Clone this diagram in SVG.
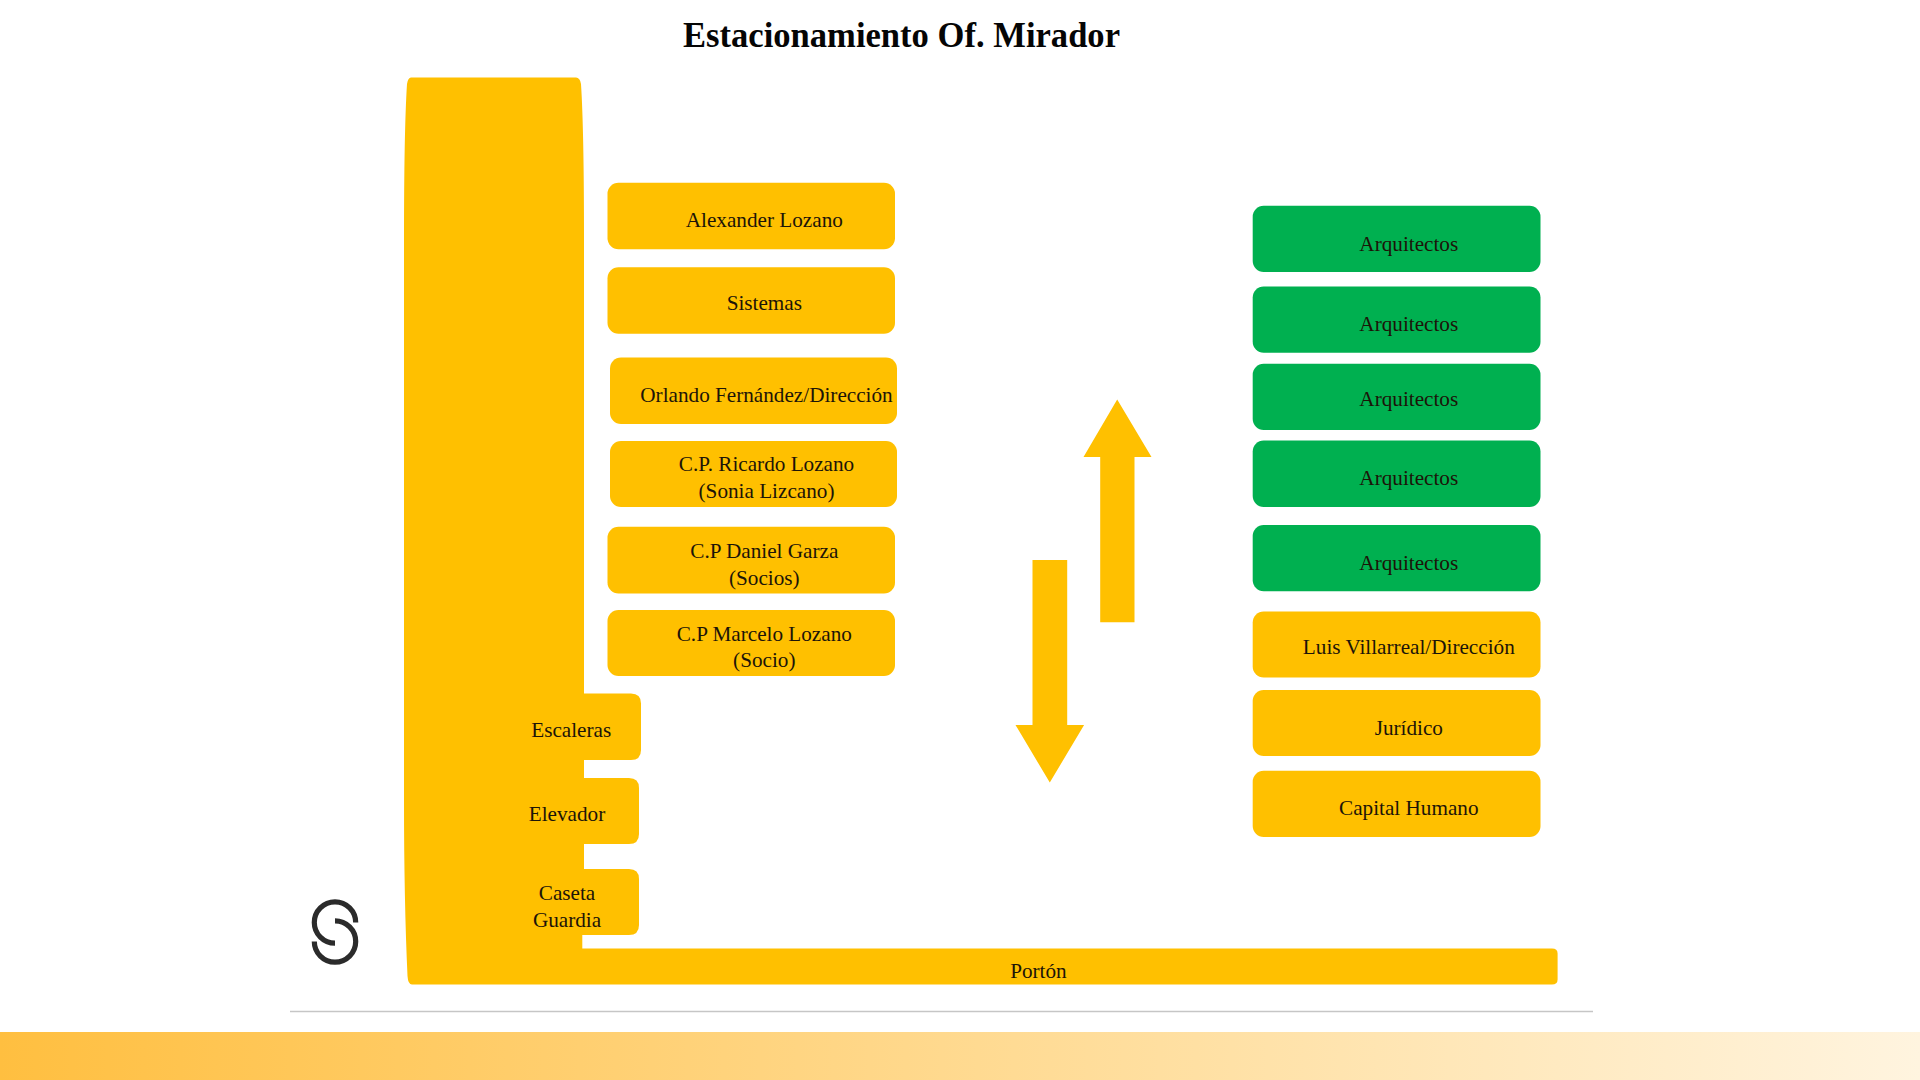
<svg xmlns="http://www.w3.org/2000/svg" width="1920" height="1080" viewBox="0 0 1920 1080">
<style>
text{font-family:"Liberation Serif","Times New Roman",serif;font-size:21.2px;fill:#1c1408;text-anchor:middle}
.title{font-size:35.5px;font-weight:700;fill:#050505}
.y{fill:#FFC000}
.g{fill:#00B050}
.logo{fill:none;stroke:#2b2b2b;stroke-width:5.2}
</style>
<defs><linearGradient id="band" x1="0" y1="0" x2="1" y2="0"><stop offset="0" stop-color="#FFBF40"/><stop offset="1" stop-color="#FFF4DF"/></linearGradient></defs>
<rect width="1920" height="1080" fill="#fff"/>
<rect x="0" y="1032" width="1920" height="48" fill="url(#band)"/>
<line x1="290" y1="1011.5" x2="1593" y2="1011.5" stroke="#c6c6c6" stroke-width="1.3"/>
<text class="title" x="901.500" y="47" textLength="437" lengthAdjust="spacingAndGlyphs">Estacionamiento Of. Mirador</text>
<g id="logo"><path class="logo" d="M355.700 922.500A20.700 20.700 0 1 0 335 943.200"/><path class="logo" d="M314.300 941.500A20.700 20.700 0 1 0 335 920.800"/></g>
<g id="torre"><path class="y" d="M411 77.500H576Q580 77.500 581 84Q584 130 584 240V935H582.300V948.500H1552Q1557.600 948.500 1557.600 953.500V979.500Q1557.600 984.500 1552 984.500H412Q408 984.500 407.500 976Q404 900 404 800V240Q404 130 407 84Q408 77.500 411 77.500Z"/></g>
<g id="escaleras"><path class="y" d="M570 693.500H631Q641 693.500 641 703.500V750Q641 760 631 760H570Z"/><text x="571.200" y="736.700">Escaleras</text></g>
<g id="elevador"><path class="y" d="M570 778H629Q639 778 639 788V834Q639 844 629 844H570Z"/><text x="567" y="821">Elevador</text></g>
<g id="caseta"><path class="y" d="M570 869H629Q639 869 639 879V925Q639 935 629 935H570Z"/><text x="567" y="900">Caseta</text><text x="567" y="927">Guardia</text></g>
<g id="porton"><text x="1038.400" y="977.500">Portón</text></g>
<g id="alexander"><rect class="y" x="607.500" y="182.800" width="287.500" height="66.500" rx="11"/><text x="764.300" y="227">Alexander Lozano</text></g>
<g id="sistemas"><rect class="y" x="607.500" y="267.300" width="287.500" height="66.500" rx="11"/><text x="764.300" y="310">Sistemas</text></g>
<g id="orlando"><rect class="y" x="610" y="357.500" width="287" height="66.500" rx="11"/><text x="766.500" y="402">Orlando Fernández/Dirección</text></g>
<g id="ricardo"><rect class="y" x="610" y="441" width="287" height="66" rx="11"/><text x="766.500" y="471">C.P. Ricardo Lozano</text><text x="766.500" y="498">(Sonia Lizcano)</text></g>
<g id="daniel"><rect class="y" x="607.500" y="526.700" width="287.500" height="66.800" rx="11"/><text x="764.300" y="558">C.P Daniel Garza</text><text x="764.300" y="585">(Socios)</text></g>
<g id="marcelo"><rect class="y" x="607.500" y="610" width="287.500" height="66" rx="11"/><text x="764.300" y="640.500">C.P Marcelo Lozano</text><text x="764.300" y="667">(Socio)</text></g>
<g id="arq1"><rect class="g" x="1252.700" y="205.700" width="287.800" height="66.300" rx="11"/><text x="1408.800" y="250.700">Arquitectos</text></g>
<g id="arq2"><rect class="g" x="1252.700" y="286.500" width="287.800" height="66.300" rx="11"/><text x="1408.800" y="331">Arquitectos</text></g>
<g id="arq3"><rect class="g" x="1252.700" y="363.700" width="287.800" height="66.300" rx="11"/><text x="1408.800" y="406">Arquitectos</text></g>
<g id="arq4"><rect class="g" x="1252.700" y="440.500" width="287.800" height="66.500" rx="11"/><text x="1408.800" y="485">Arquitectos</text></g>
<g id="arq5"><rect class="g" x="1252.700" y="525" width="287.800" height="66.300" rx="11"/><text x="1408.800" y="569.700">Arquitectos</text></g>
<g id="luis"><rect class="y" x="1252.700" y="611.500" width="287.800" height="66" rx="11"/><text x="1408.800" y="654">Luis Villarreal/Dirección</text></g>
<g id="juridico"><rect class="y" x="1252.700" y="690" width="287.800" height="66" rx="11"/><text x="1408.800" y="735">Jurídico</text></g>
<g id="capital"><rect class="y" x="1252.700" y="770.800" width="287.800" height="66.200" rx="11"/><text x="1408.800" y="815">Capital Humano</text></g>
<g id="connectors">
<path class="y" d="M1117.200 399.500L1151.500 457H1134.500V622.300H1100.200V457H1083.500Z"/>
<path class="y" d="M1049.800 782.500L1084.100 725H1067.200V560H1032.500V725H1015.500Z"/>
</g>
</svg>
